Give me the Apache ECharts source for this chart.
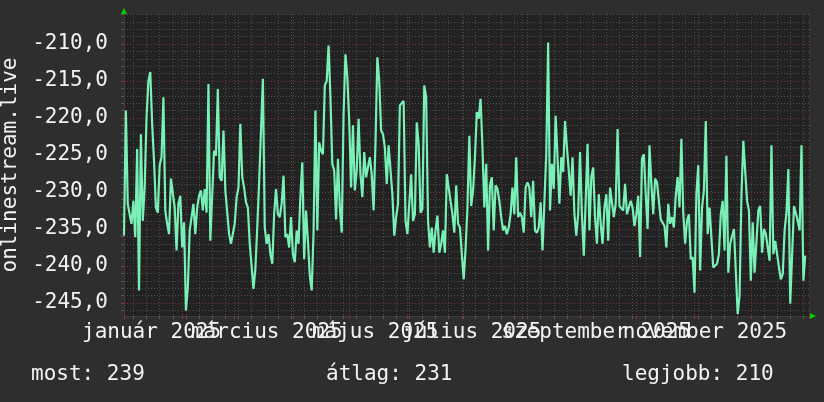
<!DOCTYPE html>
<html><head><meta charset="utf-8">
<script src="https://cdn.jsdelivr.net/npm/echarts@6/dist/echarts.min.js"></script>
<style>html,body{margin:0;padding:0;background:#2e2e2e}#c{width:824px;height:402px}</style>
</head><body><div id="c"></div>
<script>
// daily values, 1 Jan 2025 = day 0
const values = [
-235.9,-219.0,-231.6,-233.0,-234.3,-231.2,-236.1,-224.2,-243.3,-222.2,
-233.9,-229.4,-219.9,-215.0,-213.8,-220.8,-225.8,-232.1,-232.8,-226.4,
-225.3,-217.2,-232.5,-234.3,-235.7,-228.2,-228.0,-232.1,-237.9,-231.6,
-230.5,-237.5,-234.1,-246.0,-242.9,-235.2,-235.0,-231.6,-235.7,-232.1,
-230.5,-229.8,-232.5,-229.6,-232.8,-215.4,-236.6,-236.6,-224.4,-225.1,
-216.1,-228.0,-228.5,-221.7,-229.8,-229.6,-235.7,-237.0,-236.8,-234.3,
-230.7,-229.4,-220.8,-228.0,-229.4,-231.4,-232.1,-237.0,-237.0,-243.1,
-240.4,-234.8,-228.7,-228.7,-214.7,-234.8,-237.0,-235.7,-238.4,-239.7,
-233.0,-229.6,-233.0,-233.4,-231.6,-227.8,-236.1,-235.7,-237.5,-233.4,
-238.4,-239.5,-235.2,-237.0,-230.5,-226.0,-239.1,-232.5,-236.6,-241.3,
-243.3,-235.5,-219.0,-235.2,-223.3,-224.4,-224.9,-215.6,-215.0,-210.2,
-217.2,-226.2,-227.1,-233.7,-225.5,-232.1,-235.5,-219.5,-211.4,-214.5,
-220.4,-229.4,-221.0,-229.8,-227.1,-220.1,-227.6,-230.7,-224.6,-228.0,
-227.8,-225.3,-227.6,-232.5,-223.3,-211.8,-215.0,-221.7,-222.2,-224.0,
-228.9,-223.7,-223.7,-230.3,-235.9,-233.4,-231.6,-218.3,-218.3,-217.7,
-233.9,-235.7,-235.9,-227.6,-233.9,-233.0,-220.6,-223.5,-232.8,-232.3,
-215.6,-217.2,-233.9,-237.5,-234.8,-238.2,-235.2,-233.2,-238.2,-237.0,
-235.2,-238.2,-227.6,-229.4,-231.2,-233.0,-235.5,-229.1,-234.3,-234.8,
-238.4,-241.8,-237.7,-232.1,-222.4,-231.9,-229.8,-225.3,-219.2,-220.1,
-217.4,-224.0,-232.1,-226.2,-237.9,-229.1,-228.0,-235.2,-229.1,-229.6,
-231.2,-233.4,-235.2,-234.6,-235.7,-234.8,-233.0,-229.4,-233.0,-225.3,
-233.4,-232.8,-233.4,-235.5,-229.4,-228.7,-229.4,-233.4,-228.5,-235.2,
-235.5,-234.8,-231.4,-237.9,-231.4,-224.9,-209.8,-232.5,-226.2,-229.6,
-219.7,-225.3,-231.6,-225.3,-227.3,-220.4,-224.0,-227.1,-230.5,-225.3,
-233.0,-235.9,-233.0,-224.6,-233.0,-238.6,-231.2,-223.5,-235.2,-228.0,
-226.7,-233.4,-237.0,-230.3,-234.3,-237.0,-232.1,-230.3,-236.6,-229.4,
-229.4,-233.4,-231.6,-221.5,-231.9,-232.1,-232.5,-228.9,-233.0,-233.0,
-231.2,-232.1,-234.6,-233.0,-230.5,-238.8,-225.5,-224.9,-230.3,-235.0,
-223.7,-228.9,-233.0,-228.2,-228.7,-228.5,-233.7,-233.9,-234.6,-237.5,
-231.6,-234.3,-233.4,-234.8,-230.5,-228.0,-232.1,-222.8,-232.8,-237.0,
-233.9,-233.0,-239.1,-238.8,-243.6,-230.3,-226.4,-240.6,-232.1,-229.8,
-220.4,-235.7,-232.1,-232.1,-240.2,-240.4,-239.7,-238.4,-233.0,-231.2,
-237.9,-225.1,-240.9,-237.0,-237.0,-235.0,-234.8,-246.5,-244.0,-230.5,
-223.1,-223.3,-231.2,-232.5,-242.0,-234.1,-240.9,-240.9,-232.5,-231.9,
-238.2,-235.0,-235.7,-235.7,-239.3,-223.7,-238.4,-236.6,-236.8,-240.2,
-241.8,-241.1,-235.2,-232.8,-226.9,-245.1,-245.1,-231.9,-231.9,-233.9,
-235.2,-223.7,-242.0,-238.6
];
const monthStarts = [0,31,59,90,120,151,181,212,243,273,304,334,365];
const mondays = [5,12,19,26,33,40,47,54,61,68,75,82,89,96,103,110,117,124,131,138,145,152,159,166,173,180,187,194,201,208,215,222,229,236,243,250,257,264,271,278,285,292,299,306,313,320,327,334,341,348,355,362];
// label centres (day)
const labelDaysA = [14.7, 133.8, 251.6];
const labelNamesA = ['január 2025','május 2025','szeptember 2025'];
const labelDaysB = [76.1, 185.3, 309.6];
const labelNamesB = ['március 2025','július 2025','november 2025'];
const yMajor = [-245,-240,-235,-230,-225,-220,-215,-210];
const yMinor = [-246,-245,-244,-243,-242,-241,-240,-239,-238,-237,-236,-235,-234,-233,-232,-231,-230,-229,-228,-227,-226,-225,-224,-223,-222,-221,-220,-219,-218,-217,-216,-215,-214,-213,-212,-211,-210,-209,-208,-207,-206];
const yName = 'onlinestream.live';
const legendTexts = ['most: 239','átlag: 231','legjobb: 210'];

const FONT = '"DejaVu Sans Mono", monospace';
const FS = 21;
const TXT = '#f2f2f2';
const MINOR = '#4e4e4e';
const MAJOR = '#6e3636';
const YMIN = -246.76, YMAX = -205.95;

function labelAxis(days, names, withGrid) {
  return {type:'value', min:0, max:365, position:'bottom', z:2,
    axisLine:{show:false},
    axisTick: withGrid ? {show:true, customValues: monthStarts, length:3, lineStyle:{color:'#8a3a3a'}} : {show:false},
    splitLine: withGrid ? {show:true, lineStyle:{color:MAJOR, type:[1,2], width:1}} : {show:false},
    axisLabel:{show:true, customValues: days, margin:6, fontFamily:FONT, fontSize:FS, color:TXT,
      hideOverlap:false, showMinLabel:true, showMaxLabel:true,
      formatter: v => names[days.indexOf(v)] || ''}};
}

const chart = echarts.init(document.getElementById('c'), null, {renderer:'canvas'});
chart.setOption({
  backgroundColor: '#2e2e2e',
  animation: false,
  grid: {left:124, right:15, top:14, bottom:86, show:true, backgroundColor:'#222222', borderWidth:0,
         containLabel:false, outerBoundsMode:'none'},
  title: [
    {text: legendTexts[0], left: 31, top: 364, padding:0, textStyle:{fontFamily:FONT, fontSize:FS, fontWeight:'normal', color:TXT}},
    {text: legendTexts[1], left: 326, top: 364, padding:0, textStyle:{fontFamily:FONT, fontSize:FS, fontWeight:'normal', color:TXT}},
    {text: legendTexts[2], left: 622, top: 364, padding:0, textStyle:{fontFamily:FONT, fontSize:FS, fontWeight:'normal', color:TXT}}
  ],
  xAxis: [
    {type:'value', min:0, max:365, position:'bottom', z:1,
     axisLine:{show:true, lineStyle:{color:'#3a3a3a', width:1}},
     axisTick:{show:true, customValues: mondays, length:3, lineStyle:{color:'#5a5a5a'}},
     splitLine:{show:true, lineStyle:{color:MINOR, type:[1,2], width:1}},
     axisLabel:{show:false}},
    labelAxis(labelDaysA, labelNamesA, true),
    labelAxis(labelDaysB, labelNamesB, false)
  ],
  yAxis: [
    {type:'value', min:YMIN, max:YMAX, position:'left', z:1,
     axisLine:{show:true, lineStyle:{color:'#3a3a3a'}},
     axisTick:{show:true, customValues: yMinor, length:3, lineStyle:{color:'#5a5a5a'}},
     splitLine:{show:true, lineStyle:{color:MINOR, type:[1,2], width:1}},
     axisLabel:{show:false}},
    {type:'value', min:YMIN, max:YMAX, position:'left', z:2,
     axisLine:{show:false},
     axisTick:{show:true, customValues: yMajor, length:3, lineStyle:{color:'#8a3a3a'}},
     splitLine:{show:true, lineStyle:{color:MAJOR, type:[1,2], width:1}},
     axisLabel:{show:true, customValues: yMajor, margin:16, fontFamily:FONT, fontSize:FS, color:TXT,
       formatter: v => v.toFixed(1).replace('.', ',')},
     name: yName, nameLocation:'middle', nameGap:103, nameRotate:90,
     nameTextStyle:{fontFamily:FONT, fontSize:FS, color:TXT}}
  ],
  series: [{
    type:'line', xAxisIndex:1, yAxisIndex:1, showSymbol:false, z:5,
    lineStyle:{color:'#78f0b6', width:2.2},
    data: values.map((v,i)=>[i,v])
  }],
  graphic: [
    {type:'polygon', shape:{points:[[121,14],[127,14],[124,8]]}, style:{fill:'#00d000'}},
    {type:'polygon', shape:{points:[[810,313],[810,319],[816,316]]}, style:{fill:'#00d000'}}
  ]
});
</script></body></html>
